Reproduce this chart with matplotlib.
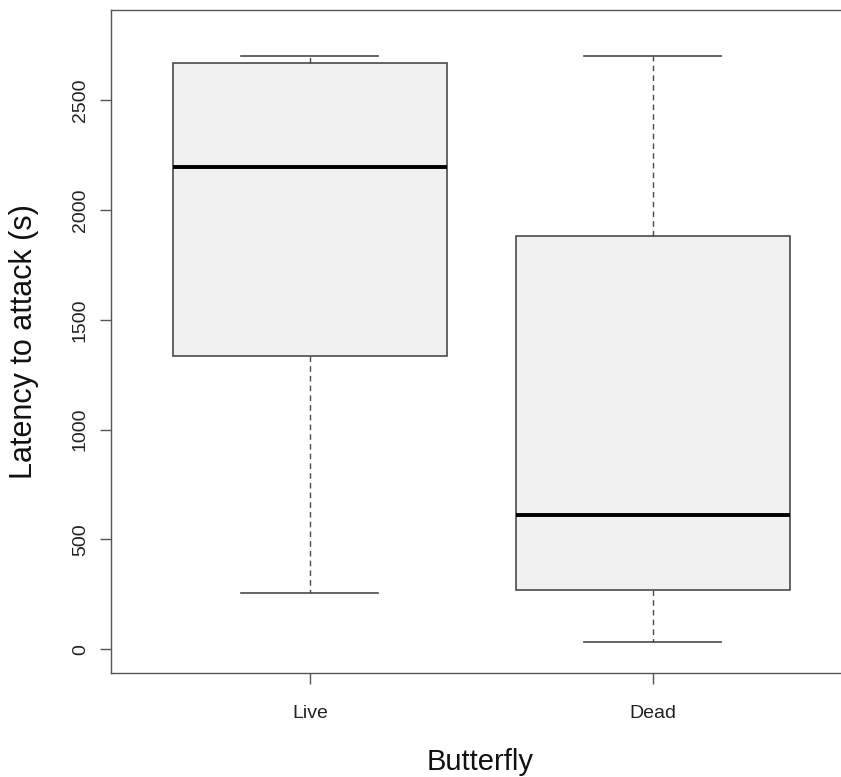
import matplotlib
matplotlib.use("Agg")
import matplotlib.pyplot as plt

# box summary per group
groups = ["Live", "Dead"]
whisker_low = [256, 30]
q1 = [1336, 267]
medians = [2196, 610]
q3 = [2670, 1883]
whisker_high = [2700, 2700]

yticks = [0, 500, 1000, 1500, 2000, 2500]

plt.rcParams["font.family"] = ["Liberation Sans", "DejaVu Sans"]

fig = plt.figure(figsize=(8.41, 7.77), dpi=100)
# right edge of the plot box runs past the picture, as in the reference
ax = fig.add_axes([111 / 841, 1 - 673 / 777, 740.5 / 841, 663 / 777])

stats = []
for i, name in enumerate(groups):
    stats.append(dict(label=name, med=medians[i], q1=q1[i], q3=q3[i],
                      whislo=whisker_low[i], whishi=whisker_high[i], fliers=[]))

edge = "#4a4a4a"
ax.bxp(stats, positions=[1, 2], widths=0.8, patch_artist=True,
       showfliers=False,
       boxprops=dict(facecolor="#f1f1f1", edgecolor=edge, linewidth=1.2),
       medianprops=dict(color="black", linewidth=2.8, solid_capstyle="butt"),
       whiskerprops=dict(color=edge, linewidth=1.0, linestyle=(0, (4, 3))),
       capprops=dict(color=edge, linewidth=1.2),
       capwidths=0.4)

ax.set_xlim(0.42, 2.58)
ax.set_ylim(-109, 2911)
ax.set_yticks(yticks)
ax.set_yticklabels([str(v) for v in yticks], rotation=90, va="center")

for s in ax.spines.values():
    s.set_color("#555555")
    s.set_linewidth(1.0)

ax.tick_params(axis="both", colors="#555555", length=8, width=1.0,
               labelcolor="#222222", labelsize=14)
ax.tick_params(axis="y", pad=8)
ax.tick_params(axis="x", pad=15)

ax.set_xlabel("Butterfly", fontsize=21, color="#111111")
ax.set_ylabel("Latency to attack (s)", fontsize=22, color="#111111")
ax.xaxis.set_label_coords((480 - 111) / 740.5, -(748 - 673) / 663)
ax.yaxis.set_label_coords(-(111 - 39) / 740.5, 0.5)
ax.xaxis.label.set_va("top")

fig.savefig("out.png", dpi=100)
